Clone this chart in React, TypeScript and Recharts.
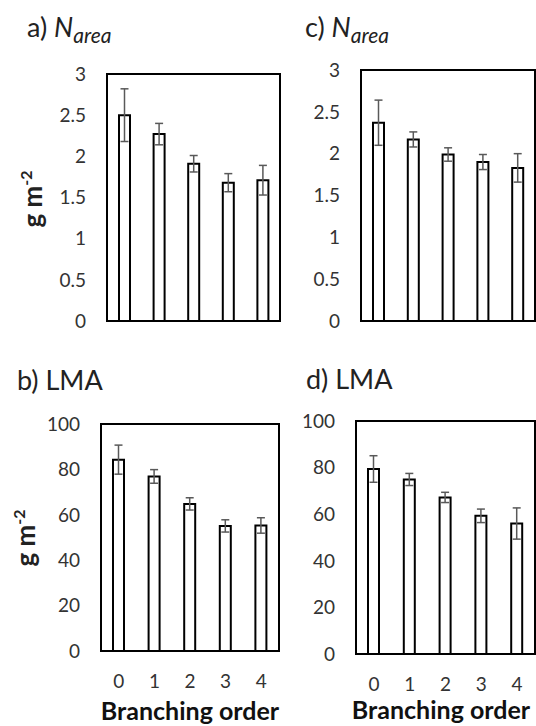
import React from 'react'
import { BarChart, Bar, XAxis, YAxis, ErrorBar, ReferenceArea } from 'recharts'

const orders = ['0', '1', '2', '3', '4']

// a) N_area
const nAreaA = [2.5, 2.27, 1.91, 1.68, 1.71]
const nAreaAErr = [0.32, 0.13, 0.1, 0.11, 0.18]
// c) N_area
const nAreaC = [2.37, 2.17, 1.99, 1.9, 1.83]
const nAreaCErr = [0.27, 0.09, 0.08, 0.09, 0.17]
// b) LMA
const lmaB = [84.3, 76.9, 64.8, 55.1, 55.3]
const lmaBErr = [6.4, 3, 2.7, 2.7, 3.4]
// d) LMA
const lmaD = [79.4, 74.9, 67.2, 59.3, 56]
const lmaDErr = [5.7, 2.6, 2.2, 2.9, 6.7]

const nTicks = [0, 0.5, 1, 1.5, 2, 2.5, 3]
const lmaTicks = [0, 20, 40, 60, 80, 100]

const FONT = 'Lato, "Open Sans", sans-serif'
const tickColor = '#333'
const frame = { stroke: '#000', strokeWidth: 2 }

interface Box {
  left: number; top: number; width: number; height: number
  mt: number; mr: number; yw: number; xh: number
}

interface PanelProps {
  box: Box
  values: number[]
  errs: number[]
  ticks: number[]
  showX?: boolean
}

function Panel({ box, values, errs, ticks, showX }: PanelProps) {
  const data = orders.map((o, i) => ({ order: o, value: values[i], err: errs[i] }))
  const max = ticks[ticks.length - 1]
  const tickStyle = { fill: tickColor, fontSize: 19 }
  return (
    <div style={{ position: 'absolute', left: box.left, top: box.top }}>
      <BarChart width={box.width} height={box.height} data={data}
        margin={{ top: box.mt, right: box.mr, left: 0, bottom: 0 }}>
        <XAxis dataKey="order" height={box.xh} tick={showX ? tickStyle : false}
          tickLine={false} tickSize={0} tickMargin={24} axisLine={frame} />
        <YAxis width={box.yw} domain={[0, max]} ticks={ticks} tick={tickStyle}
          tickLine={false} tickSize={0} tickMargin={21} axisLine={frame} />
        {/* plot frame (top + right edges) */}
        <ReferenceArea y1={0} y2={max} fill="none" stroke="#000" strokeWidth={2} ifOverflow="visible" />
        <Bar dataKey="value" fill="#fff" stroke="#000" strokeWidth={2} barSize={11} isAnimationActive={false}>
          <ErrorBar dataKey="err" width={4} stroke="#595959" strokeWidth={1.5} direction="y" isAnimationActive={false} />
        </Bar>
      </BarChart>
    </div>
  )
}

function Title({ x, y, label, sub }: { x: number; y: number; label: string; sub?: boolean }) {
  return (
    <text x={x} y={y} fontSize={27} fill="#222">
      {sub ? label + ' ' : label}
      {sub && <tspan fontStyle="italic">N</tspan>}
      {sub && <tspan fontStyle="italic" fontSize={21} dy={6}>area</tspan>}
    </text>
  )
}

function UnitLabel({ x, y }: { x: number; y: number }) {
  return (
    <text transform={`translate(${x},${y}) rotate(-90)`} textAnchor="middle"
      fontSize={26} fontWeight="bold" fill="#222">
      g m<tspan fontSize={16} dy={-10}>-2</tspan>
    </text>
  )
}

export default function App() {
  return (
    <div style={{ position: 'absolute', left: 0, top: 0, width: 536, height: 726, background: '#fff', fontFamily: FONT }}>
      <svg width={536} height={726} style={{ position: 'absolute', left: 0, top: 0 }} fontFamily={FONT}>
        <Title x={27} y={37} label="a)" sub />
        <Title x={305} y={37} label="c)" sub />
        <Title x={17} y={390} label="b) LMA" />
        <Title x={306} y={389} label="d) LMA" />
        <UnitLabel x={42} y={199} />
        <UnitLabel x={35} y={538} />
        <text x={190} y={720} textAnchor="middle" fontSize={25} fontWeight="bold" fill="#111">Branching order</text>
        <text x={441} y={719} textAnchor="middle" fontSize={25} fontWeight="bold" fill="#111">Branching order</text>
      </svg>
      <Panel box={{ left: 0, top: 0, width: 290, height: 340, mt: 74, mr: 10, yw: 107, xh: 19 }}
        values={nAreaA} errs={nAreaAErr} ticks={nTicks} />
      <Panel box={{ left: 268, top: 0, width: 268, height: 340, mt: 70, mr: 1, yw: 93, xh: 19 }}
        values={nAreaC} errs={nAreaCErr} ticks={nTicks} />
      <Panel box={{ left: 0, top: 340, width: 290, height: 386, mt: 84, mr: 11, yw: 101, xh: 75 }}
        values={lmaB} errs={lmaBErr} ticks={lmaTicks} showX />
      <Panel box={{ left: 268, top: 340, width: 268, height: 386, mt: 81, mr: 1, yw: 88, xh: 72 }}
        values={lmaD} errs={lmaDErr} ticks={lmaTicks} showX />
    </div>
  )
}
